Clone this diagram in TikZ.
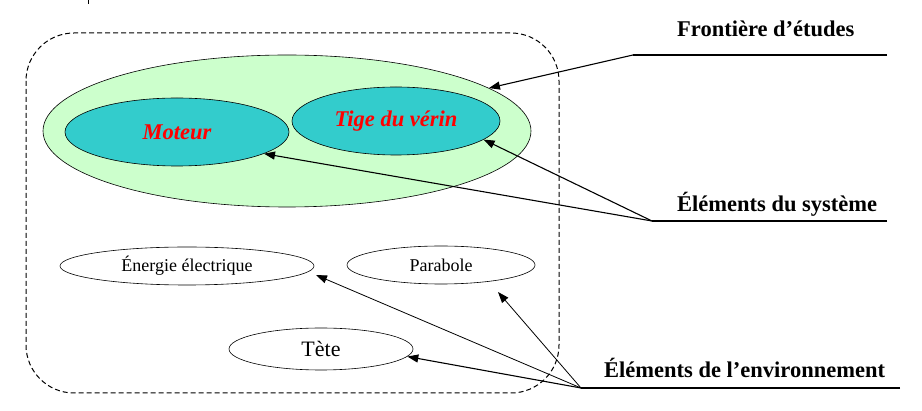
\documentclass[tikz,border=0pt]{standalone}
\usepackage{fontspec}
\setmainfont{Liberation Serif}
\usetikzlibrary{shapes.geometric,arrows.meta}
\definecolor{vertclair}{HTML}{CCFFCC}
\definecolor{turquoise}{HTML}{33CCCC}
\tikzset{
  elem/.style={ellipse, draw, line width=0.6pt, inner sep=0pt},
  systeme/.style={elem, fill=turquoise, text=red, font=\fontsize{22.5}{27}\selectfont\bfseries\itshape},
  environ/.style={elem, font=\fontsize{18}{22}\selectfont},
  titre/.style={font=\fontsize{22.5}{27}\selectfont\bfseries, inner sep=0pt, anchor=west},
  fleche/.style={-{Triangle[length=11pt,width=8pt]}, line width=1.1pt},
  trait/.style={line width=1.1pt}
}
\begin{document}
\begin{tikzpicture}[x=1pt,y=-1pt]
\useasboundingbox (0,0) rectangle (922,411);
\draw[line width=0.6pt] (88,0) -- (88,4);
% frontiere d'etudes (pointillés)
\draw[dash pattern=on 5pt off 3pt, line width=1pt, rounded corners=48pt] (26,33) rectangle (559,393);
% elements du systeme
\node[elem, fill=vertclair, minimum width=488pt, minimum height=152pt] (frontiere) at (287,131) {};
\node[systeme, minimum width=224pt, minimum height=68pt] (moteur) at (177,132) {Moteur};
\node[systeme, minimum width=208pt, minimum height=68pt] (tige) at (396,121) {Tige du vérin};
% elements de l'environnement
\node[environ, minimum width=254pt, minimum height=38pt] (energie) at (187,266) {Énergie électrique};
\node[environ, minimum width=188pt, minimum height=38pt] (parabole) at (441,265) {Parabole};
\node[environ, minimum width=184pt, minimum height=42pt, font=\fontsize{22}{26}\selectfont] (tete) at (321,349) {Tète};
% legendes
\node[titre] (lfront) at (677,29) {Frontière d’études};
\node[titre] (lsyst) at (677,204) {Éléments du système};
\node[titre] (lenv) at (604,368) {Éléments de l’environnement};
\coordinate (f1) at (633,55); \coordinate (f2) at (887,55);
\coordinate (s1) at (652,221); \coordinate (s2) at (887,221);
\coordinate (e1) at (581,388); \coordinate (e2) at (900,388);
\draw[trait] (f2) -- (f1);
\draw[trait] (s2) -- (s1);
\draw[trait] (e2) -- (e1);
\draw[fleche] (f1) -- (frontiere.12);
\draw[fleche] (s1) -- (tige.-12);
\draw[fleche] (s1) -- (moteur.-14);
\draw[fleche, line width=0.8pt] (e1) -- ([shift={(129,9)}]energie.center);
\draw[fleche, line width=0.8pt] (e1) -- ([shift={(57,27)}]parabole.center);
\draw[fleche] (e1) -- (tete.-5);
\end{tikzpicture}
\end{document}
